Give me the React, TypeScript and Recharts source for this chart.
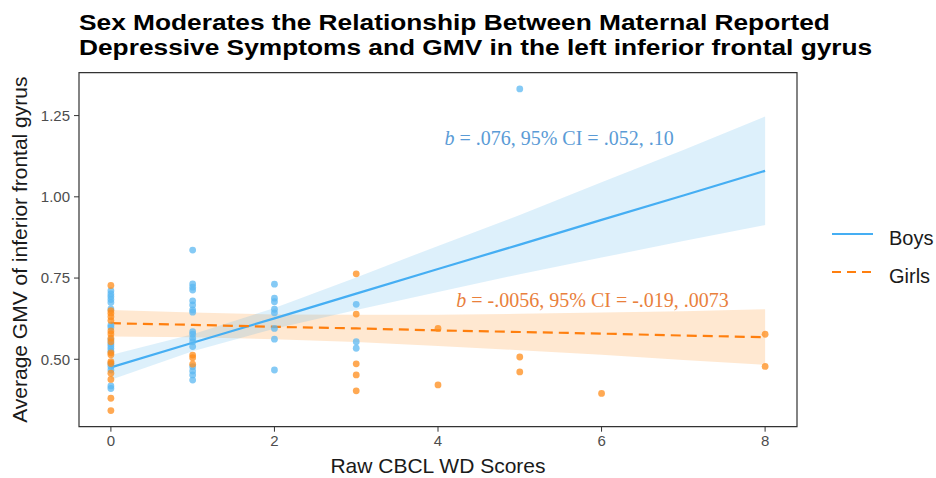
import React from "react";
import {
  Area,
  ComposedChart,
  Line,
  ReferenceArea,
  ReferenceDot,
  Scatter,
  XAxis,
  YAxis,
} from "recharts";

// ---------------------------------------------------------------------------
// GMV (left inferior frontal gyrus) vs raw CBCL WD scores, moderated by sex.
// ---------------------------------------------------------------------------

const TITLE_LINES = [
  "Sex Moderates the Relationship Between Maternal Reported",
  "Depressive Symptoms and GMV in the left inferior frontal gyrus",
];

const BLUE_LINE = "#45aef3";
const BLUE_POINT = "#5cb8f2";
const BLUE_BAND = "#56b4e9";
const BLUE_TEXT = "#5a9bd6";
const ORANGE_LINE = "#ff7f0e";
const ORANGE_POINT = "#ff8c1a";
const ORANGE_BAND = "#ff8c1a";
const ORANGE_TEXT = "#e9803c";

const X_TICKS = [0, 2, 4, 6, 8];
const Y_TICKS = [0.5, 0.75, 1.0, 1.25];
const X_DOMAIN = [-0.39, 8.39];
const Y_DOMAIN = [0.2925, 1.382];

// fitted lines + 95% CI, read at each integer score
const scores = [0, 1, 2, 3, 4, 5, 6, 7, 8];
const boysFit = [0.475, 0.551, 0.626, 0.702, 0.778, 0.853, 0.929, 1.004, 1.08];
const boysLower = [0.437, 0.525, 0.594, 0.652, 0.707, 0.762, 0.813, 0.864, 0.913];
const boysUpper = [0.513, 0.577, 0.658, 0.752, 0.849, 0.944, 1.045, 1.144, 1.247];
const girlsFit = [0.611, 0.606, 0.6, 0.595, 0.589, 0.584, 0.579, 0.573, 0.568];
const girlsLower = [0.57, 0.568, 0.562, 0.553, 0.541, 0.528, 0.514, 0.498, 0.483];
const girlsUpper = [0.652, 0.644, 0.638, 0.637, 0.637, 0.64, 0.644, 0.648, 0.654];

// raw observations
const boysX = [
  0, 0, 0, 0, 0, 0, 0, 0, 0, 0, 0, 0, 0, 0, 0, 0, 0, 0,
  1, 1, 1, 1, 1, 1, 1, 1, 1, 1, 1, 1, 1, 1, 1, 1, 1,
  2, 2, 2, 2, 2, 2, 2, 2,
  3, 3, 3,
  5,
];
const boysY = [
  0.711, 0.701, 0.693, 0.684, 0.675, 0.655, 0.605, 0.598, 0.56, 0.548, 0.541, 0.533, 0.525, 0.486, 0.478, 0.467, 0.418, 0.41,
  0.836, 0.732, 0.722, 0.713, 0.68, 0.667, 0.652, 0.645, 0.585, 0.577, 0.565, 0.554, 0.539, 0.477, 0.464, 0.452, 0.436,
  0.731, 0.688, 0.677, 0.654, 0.643, 0.595, 0.562, 0.467,
  0.669, 0.554, 0.534,
  1.332,
];
const girlsX = [
  0, 0, 0, 0, 0, 0, 0, 0, 0, 0, 0, 0, 0, 0, 0, 0, 0,
  1, 1, 1,
  3, 3, 3, 3, 3,
  4, 4,
  5, 5,
  6,
  8, 8,
];
const girlsY = [
  0.727, 0.65, 0.642, 0.631, 0.619, 0.587, 0.578, 0.565, 0.554, 0.52, 0.514, 0.493, 0.487, 0.457, 0.438, 0.38, 0.342,
  0.513, 0.505, 0.485,
  0.763, 0.639, 0.486, 0.452, 0.403,
  0.595, 0.421,
  0.507, 0.461,
  0.395,
  0.577, 0.478,
];

const fitTable = scores.map((x, i) => ({
  x,
  boysFit: boysFit[i],
  boysBand: [boysLower[i], boysUpper[i]],
  girlsFit: girlsFit[i],
  girlsBand: [girlsLower[i], girlsUpper[i]],
}));
const boysPoints = boysX.map((x, i) => ({ x, y: boysY[i] }));
const girlsPoints = girlsX.map((x, i) => ({ x, y: girlsY[i] }));

const TICK_STYLE = {
  fontSize: 15,
  fill: "#4d4d4d",
  fontFamily: "'Liberation Sans', Arial, sans-serif",
};
const AXIS_TITLE_STYLE = {
  fontSize: 21,
  fill: "#1a1a1a",
  fontFamily: "'Liberation Sans', Arial, sans-serif",
};

function dotShape(color: string) {
  return (props: any) => (
    <circle cx={props.cx} cy={props.cy} r={3.4} fill={color} fillOpacity={0.75} />
  );
}

function noteShape(color: string, rest: string) {
  return (props: any) => (
    <text
      x={props.cx}
      y={props.cy}
      dy="0.35em"
      textAnchor="middle"
      fill={color}
      fontSize={20}
      fontFamily="'Liberation Serif', 'Times New Roman', serif"
    >
      <tspan fontStyle="italic">b</tspan>
      {rest}
    </text>
  );
}

function SexLegend() {
  return (
    <svg
      width={110}
      height={80}
      style={{ position: "absolute", left: 826, top: 214 }}
    >
      <line x1={6} x2={47} y1={20} y2={20} stroke={BLUE_LINE} strokeWidth={2.2} />
      <text x={63} y={31} fontSize={20} fill="#1a1a1a" fontFamily="'Liberation Sans', Arial, sans-serif">
        Boys
      </text>
      <line
        x1={6}
        x2={47}
        y1={58}
        y2={58}
        stroke={ORANGE_LINE}
        strokeWidth={2.2}
        strokeDasharray="9 6"
      />
      <text x={63} y={69} fontSize={20} fill="#1a1a1a" fontFamily="'Liberation Sans', Arial, sans-serif">
        Girls
      </text>
    </svg>
  );
}

export default function App() {
  return (
    <div
      style={{
        position: "absolute",
        left: 0,
        top: 0,
        width: 936,
        height: 478,
        background: "#fff",
      }}
    >
      <div
        style={{
          position: "absolute",
          left: 79,
          top: 10,
          fontFamily: "'Liberation Sans', Arial, sans-serif",
          fontWeight: 700,
          fontSize: 22,
          lineHeight: "25px",
          color: "#000",
          whiteSpace: "nowrap",
          transform: "scaleX(1.195)",
          transformOrigin: "left top",
        }}
      >
        {TITLE_LINES.map((line) => (
          <div key={line}>{line}</div>
        ))}
      </div>

      <ComposedChart
        width={936}
        height={478}
        data={fitTable}
        margin={{ top: 72.7, right: 139, bottom: 0, left: 0 }}
      >
        <XAxis
          type="number"
          dataKey="x"
          domain={X_DOMAIN}
          ticks={X_TICKS}
          allowDataOverflow
          height={51.3}
          axisLine={false}
          tickLine={{ stroke: "#333" }}
          tickSize={5}
          tickMargin={4}
          tick={TICK_STYLE}
          label={{
            value: "Raw CBCL WD Scores",
            position: "insideBottom",
            offset: 5,
            style: AXIS_TITLE_STYLE,
          }}
        />
        <YAxis
          type="number"
          domain={Y_DOMAIN}
          ticks={Y_TICKS}
          allowDataOverflow
          width={79}
          axisLine={false}
          tickLine={{ stroke: "#333" }}
          tickSize={5}
          tickMargin={4}
          tick={TICK_STYLE}
          tickFormatter={(v: number) => v.toFixed(2)}
          label={{
            value: "Average GMV of inferior frontal gyrus",
            angle: -90,
            position: "insideLeft",
            offset: 20,
            style: { ...AXIS_TITLE_STYLE, textAnchor: "middle" },
          }}
        />

        <Scatter
          data={boysPoints}
          dataKey="y"
          shape={dotShape(BLUE_POINT)}
          isAnimationActive={false}
        />
        <Scatter
          data={girlsPoints}
          dataKey="y"
          shape={dotShape(ORANGE_POINT)}
          isAnimationActive={false}
        />

        <Area
          type="linear"
          dataKey="girlsBand"
          stroke="none"
          fill={ORANGE_BAND}
          fillOpacity={0.2}
          isAnimationActive={false}
        />
        <Area
          type="linear"
          dataKey="boysBand"
          stroke="none"
          fill={BLUE_BAND}
          fillOpacity={0.2}
          isAnimationActive={false}
        />

        <Line
          type="linear"
          dataKey="boysFit"
          stroke={BLUE_LINE}
          strokeWidth={2.2}
          dot={false}
          isAnimationActive={false}
        />
        <Line
          type="linear"
          dataKey="girlsFit"
          stroke={ORANGE_LINE}
          strokeWidth={2.2}
          strokeDasharray="10 6"
          dot={false}
          isAnimationActive={false}
        />

        <ReferenceDot
          x={5.48}
          y={1.181}
          r={0}
          shape={noteShape(BLUE_TEXT, " = .076, 95% CI = .052, .10")}
        />
        <ReferenceDot
          x={5.89}
          y={0.683}
          r={0}
          shape={noteShape(ORANGE_TEXT, " = -.0056, 95% CI = -.019, .0073")}
        />

        <ReferenceArea
          x1={X_DOMAIN[0]}
          x2={X_DOMAIN[1]}
          y1={Y_DOMAIN[0]}
          y2={Y_DOMAIN[1]}
          fill="none"
          stroke="#333"
          strokeWidth={1.2}
          ifOverflow="visible"
        />
      </ComposedChart>

      <SexLegend />
    </div>
  );
}
